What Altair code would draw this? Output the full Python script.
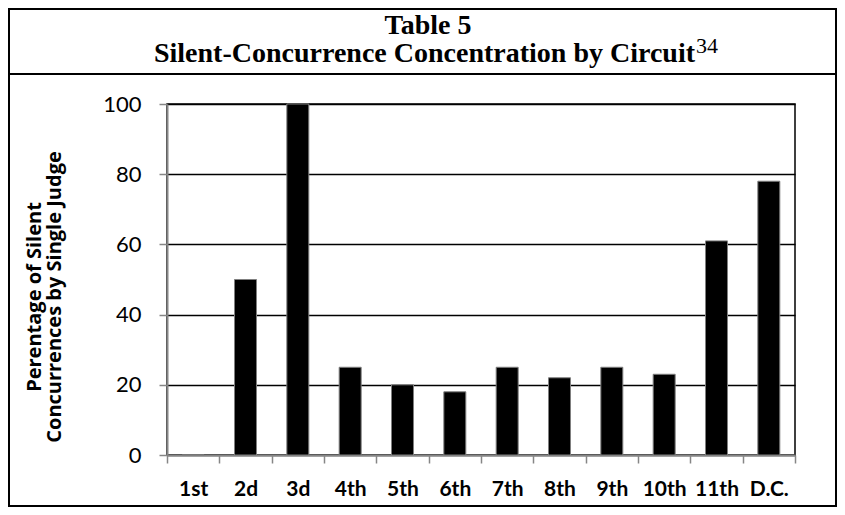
import altair as alt
import pandas as pd

circuits = ["1st", "2d", "3d", "4th", "5th", "6th", "7th", "8th", "9th", "10th", "11th", "D.C."]
values = [0, 50, 100, 25, 20, 18, 25, 22, 25, 23, 61, 78]
y_ticks = [0, 20, 40, 60, 80, 100]
title_line1 = "Table 5"
title_line2 = "Silent-Concurrence Concentration by Circuit"
title_sup = "34"
y_title = ["Perentage of Silent", "Concurrences by Single Judge"]

df = pd.DataFrame({"circuit": circuits, "value": values})
one = pd.DataFrame({"k": [0]})

W, H = 628, 351
PL, PT, PR, PB = 159, 96, 42, 52
AX = "Lato"
YT = "Open Sans"
GRAY = "#868686"

bars = alt.Chart(df).mark_bar(color="black", stroke="#7f7f7f", strokeWidth=1,
                              width=alt.RelativeBandSize(0.42)).encode(
    x=alt.X("circuit:N", sort=circuits,
            scale=alt.Scale(paddingInner=0, paddingOuter=0),
            axis=alt.Axis(title=None, labelAngle=0, labelFont=AX, labelFontSize=21,
                          labelFontWeight="bold", labelColor="black", tickBand="extent",
                          tickSize=8, tickColor=GRAY, tickWidth=1.5, domainColor=GRAY,
                          domainWidth=2, labelPadding=32, labelBaseline="alphabetic",
                          grid=False)),
    y=alt.Y("value:Q", scale=alt.Scale(domain=[0, 100], nice=False),
            axis=alt.Axis(title=None, values=y_ticks, grid=True, gridColor="black",
                          gridWidth=1.5, domainColor=GRAY, domainWidth=2, tickColor=GRAY,
                          tickWidth=1.5, tickSize=8, labelFont=AX, labelFontSize=22,
                          labelColor="black", labelPadding=18)),
)

border = alt.Chart(one).mark_rect(fillOpacity=0, stroke="black", strokeWidth=2).encode(
    x=alt.value(-PL + 1), x2=alt.value(W + PR - 1),
    y=alt.value(-PT + 1), y2=alt.value(H + PB - 1),
)
sep = alt.Chart(one).mark_rule(color="black", strokeWidth=2).encode(
    x=alt.value(-PL), x2=alt.value(W + PR), y=alt.value(-30)
)

t1 = alt.Chart(one).mark_text(text=title_line1, font="Liberation Serif", fontSize=28,
                              fontWeight="bold", align="center", baseline="alphabetic",
                              color="black").encode(x=alt.value(261), y=alt.value(-70))
t2 = alt.Chart(one).mark_text(text=title_line2, font="Liberation Serif", fontSize=28,
                              fontWeight="bold", align="right", baseline="alphabetic",
                              color="black").encode(x=alt.value(528), y=alt.value(-42))
t3 = alt.Chart(one).mark_text(text=title_sup, font="Liberation Serif", fontSize=22,
                              align="left", baseline="alphabetic",
                              color="black").encode(x=alt.value(529), y=alt.value(-51))

yt1 = alt.Chart(one).mark_text(text=y_title[0], font=YT, fontSize=20, fontWeight="bold",
                               angle=270, align="center", baseline="middle",
                               color="black").encode(x=alt.value(-132), y=alt.value(193))
yt2 = alt.Chart(one).mark_text(text=y_title[1], font=YT, fontSize=20, fontWeight="bold",
                               angle=270, align="center", baseline="middle",
                               color="black").encode(x=alt.value(-112), y=alt.value(193))

chart = alt.layer(border, sep, bars, t1, t2, t3, yt1, yt2).properties(
    width=W, height=H,
    padding={"left": PL, "top": PT, "right": PR, "bottom": PB},
    autosize=alt.AutoSizeParams(type="none"),
    background="white",
).configure_view(stroke="black", strokeWidth=1.5)

chart.save("out.html", embed_options={"renderer": "svg", "actions": False})
